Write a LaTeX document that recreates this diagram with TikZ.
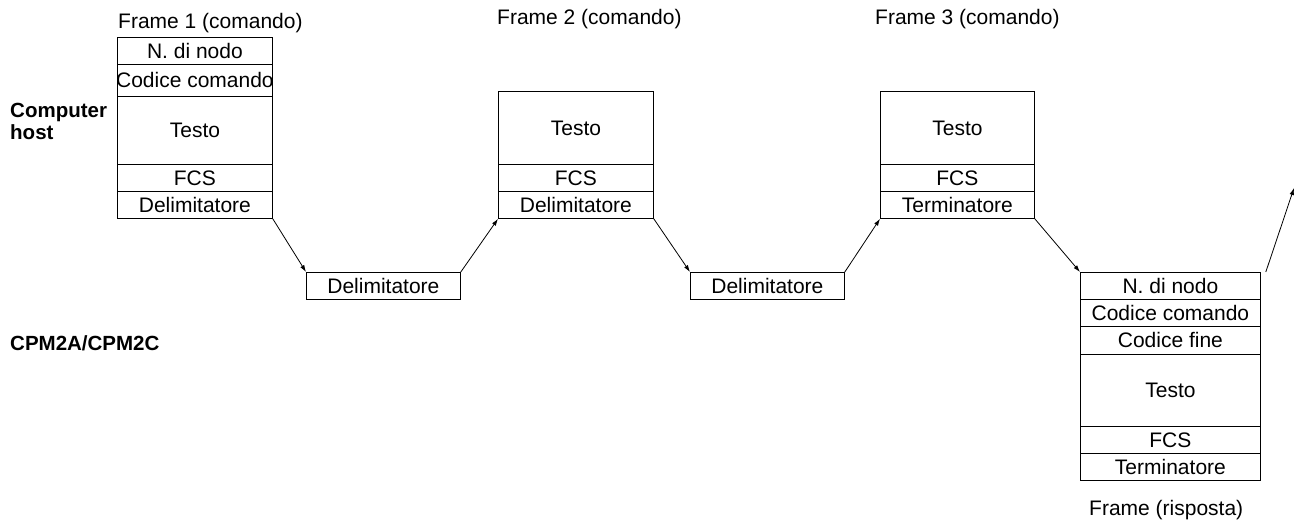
\documentclass[tikz,border=0pt]{standalone}
\usepackage{fontspec}
\setmainfont{Liberation Sans}
\usetikzlibrary{arrows.meta}
\newcommand\rowcell[5]{%
  \node[cell, anchor=north west, minimum width=#3, minimum height=#4] (#1) at (#2) {};
  \node[ctext] at (#1.center) {#5};}
\begin{document}
\begin{tikzpicture}[x=1pt,y=-1pt,
  cell/.style={draw, line width=0.8pt, inner sep=0pt, rectangle},
  ctext/.style={font=\fontsize{21}{24}\selectfont, inner sep=0pt, text height=15pt, text depth=0pt, anchor=center},
  lbl/.style={font=\fontsize{21}{24}\selectfont, inner sep=0pt, anchor=base west},
  side/.style={font=\fontsize{20.5}{22}\selectfont\bfseries, inner sep=0pt, align=left},
  conn/.style={line width=0.8pt, -{Latex[length=7pt,width=4.5pt]}}
]
\useasboundingbox (0,0) rectangle (1296,520);

% Frame 1
\rowcell{f1a}{117,37}{155pt}{27pt}{N. di nodo}
\rowcell{f1b}{117,64}{155pt}{31.5pt}{Codice comando}
\rowcell{f1c}{117,95.5}{155pt}{68.5pt}{Testo}
\rowcell{f1d}{117,164}{155pt}{27pt}{FCS}
\rowcell{f1e}{117,191}{155pt}{27pt}{Delimitatore}
\node[lbl] (l1) at (118,28.3) {Frame 1 (comando)};

% Frame 2
\rowcell{f2a}{498,91}{155pt}{73pt}{Testo}
\rowcell{f2b}{498,164}{155pt}{27pt}{FCS}
\rowcell{f2c}{498,191}{155pt}{27pt}{Delimitatore}
\node[lbl] (l2) at (497,24.3) {Frame 2 (comando)};

% Frame 3
\rowcell{f3a}{880,91}{154pt}{73pt}{Testo}
\rowcell{f3b}{880,164}{154pt}{27pt}{FCS}
\rowcell{f3c}{880,191}{154pt}{27pt}{Terminatore}
\node[lbl] (l3) at (875,24.3) {Frame 3 (comando)};

% Delimiters sent by CPM
\rowcell{d1}{306,272}{154pt}{27pt}{Delimitatore}
\rowcell{d2}{690,272}{154pt}{27pt}{Delimitatore}

% Response frame
\rowcell{r1}{1080,272}{180pt}{27pt}{N. di nodo}
\rowcell{r2}{1080,299}{180pt}{27pt}{Codice comando}
\rowcell{r3}{1080,326}{180pt}{28pt}{Codice fine}
\rowcell{r4}{1080,354}{180pt}{72pt}{Testo}
\rowcell{r5}{1080,426}{180pt}{27pt}{FCS}
\rowcell{r6}{1080,453}{180pt}{27pt}{Terminatore}
\node[lbl] (lr) at (1089,515) {Frame (risposta)};

% Side labels
\node[side, anchor=north west] (host) at (10,102.5) {Computer\\host};
\node[side, anchor=base west] (cpm) at (10,350) {CPM2A/CPM2C};

% Connectors
\draw[conn] (f1e.south east) -- (d1.north west);
\draw[conn] (d1.north east) -- (f2c.south west);
\draw[conn] (f2c.south east) -- (d2.north west);
\draw[conn] (d2.north east) -- (f3c.south west);
\draw[conn] (f3c.south east) -- (r1.north west);
\coordinate (out) at (1294,188);
\draw[conn] ([xshift=5pt]r1.north east) -- (out);
\end{tikzpicture}
\end{document}
